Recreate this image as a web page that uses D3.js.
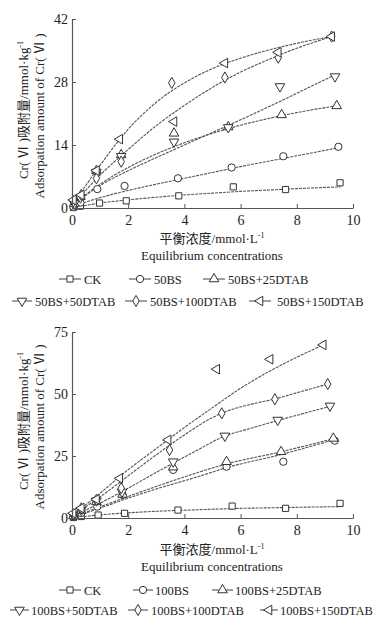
<!DOCTYPE html>
<html><head><meta charset="utf-8">
<script src="https://cdn.jsdelivr.net/npm/d3@7"></script>
<style>body{margin:0;background:#fff}svg{display:block}</style>
</head><body><svg id="c" width="388" height="623"></svg>
<script>
// ---------- data ----------
const xTicks = [0, 2, 4, 6, 8, 10];
const topYTicks = [0, 14, 28, 42];
const botYTicks = [0, 25, 50, 75];

const topNames = ["CK", "50BS", "50BS+25DTAB", "50BS+50DTAB", "50BS+100DTAB", "50BS+150DTAB"];
const botNames = ["CK", "100BS", "100BS+25DTAB", "100BS+50DTAB", "100BS+100DTAB", "100BS+150DTAB"];

// top panel measured points [x, y]
const topCK   = [[0.05,0.1],[0.3,0.4],[0.98,1.1],[1.93,1.6],[3.8,2.7],[5.74,4.7],[7.6,4.1],[9.54,5.6]];
const top50BS = [[0.05,0.3],[0.3,1.2],[0.9,4.2],[1.87,4.9],[3.77,6.6],[5.68,9.0],[7.52,11.5],[9.48,13.6]];
const top25   = [[0.08,1.0],[0.3,2.5],[0.87,8.3],[1.75,11.8],[3.63,16.6],[5.56,18.0],[7.46,20.7],[9.42,22.7]];
const top50   = [[0.08,1.0],[0.3,2.3],[0.87,8.0],[1.75,11.5],[3.63,14.7],[5.56,17.9],[7.4,27.0],[9.36,29.2]];
const top100  = [[0.05,1.5],[0.33,2.9],[0.87,6.6],[1.75,10.3],[3.55,27.8],[5.44,29.0],[7.34,33.4],[9.24,38.1]];
const top150  = [[0.05,1.8],[0.33,2.9],[0.87,8.3],[1.7,15.3],[3.63,19.2],[5.44,32.2],[7.34,34.6],[9.24,38.1]];

// top panel fitted curves [x, y]
const topCKFit   = [[0,0],[1,1.1],[2,1.8],[3,2.4],[4,2.9],[5,3.3],[6,3.7],[7,4.0],[8,4.3],[9.55,4.7]];
const top50BSFit = [[0,0.3],[1,2.3],[2,3.9],[3,5.3],[4,6.6],[5,7.9],[6,9.2],[7,10.4],[8,11.6],[9.48,13.4]];
const top25Fit   = [[0,0.5],[1,5.3],[2,9],[3,12],[4,14.5],[5,16.6],[6,18.4],[7,19.9],[8,21.2],[9.4,22.7]];
const top50Fit   = [[0,0.5],[1,5],[2,8.3],[3,11.2],[4,14],[5,16.8],[6,19.6],[7,22.5],[8,25.5],[9.36,29.6]];
const top100Fit  = [[0,0.5],[1,7.3],[2,13],[3,18.3],[4,22.8],[5,26.8],[6,30.2],[7,33],[8,35.5],[9.24,38.1]];
const top150Fit  = [[0,0.5],[1,9.5],[2,17.5],[3,23.5],[4,27.8],[5,31],[6,33.3],[7,35.1],[8,36.6],[9.24,38.1]];

// bottom panel measured points [x, y]
const botCK   = [[0.05,0.2],[0.33,0.6],[0.93,1.2],[1.87,1.9],[3.77,3.2],[5.7,4.8],[7.6,3.9],[9.54,5.9]];
const bot100BS= [[0.05,0.5],[0.33,2.0],[0.9,4.6],[1.8,9.3],[3.6,19.4],[5.5,20.7],[7.52,22.7],[9.35,31.2]];
const bot25   = [[0.05,0.8],[0.33,3.0],[0.87,6.5],[1.8,9.5],[3.6,20.5],[5.5,22.7],[7.44,26.7],[9.3,32.1]];
const bot50   = [[0.05,1.0],[0.33,3.2],[0.87,7.0],[1.78,10.5],[3.6,22.7],[5.44,33.1],[7.32,39.5],[9.18,45.2]];
const bot100  = [[0.05,1.5],[0.33,3.9],[0.87,7.3],[1.75,12.0],[3.47,27.4],[5.33,42.2],[7.22,47.9],[9.1,54.0]];
const bot150  = [[0.04,1.9],[0.33,4.0],[0.87,7.5],[1.7,16.0],[3.42,31.5],[5.15,60.0],[7.05,64.0],[8.94,69.8]];

// bottom panel fitted curves [x, y]
const botCKFit   = [[0,0],[0.93,1.2],[1.87,2.0],[3,2.7],[4.38,3.3],[5.7,3.8],[7.5,4.2],[9.54,4.6]];
const bot100BSFit= [[0,0.2],[1,4],[2,8],[3,11.7],[4.38,16.3],[5.5,20.3],[7.44,25.6],[9.3,31.5]];
const bot25Fit   = [[0,0.3],[1,4.5],[2,8.7],[3,12.7],[4.38,18],[5.5,21.8],[7.44,26.7],[9.3,32]];
const bot50Fit   = [[0,0.5],[1,6],[2,12],[2.78,17],[3.5,21.5],[4.4,27],[5.39,32.8],[6.4,36.3],[7.32,39.3],[9.18,45]];
const bot100Fit  = [[0,1],[1,8.5],[2,17],[3,25.5],[4,33.5],[5,40.5],[5.5,43],[6.5,46.2],[7.22,48],[8,50.5],[9.1,54]];
const bot150Fit  = [[0,1],[1,10],[2,19.5],[3,28],[4,36.5],[5,44.5],[6,52.3],[7,59],[8,64.8],[8.94,69.8]];

// ---------- drawing ----------
const svg = d3.select("#c");
const FONT = "'Liberation Serif','Times New Roman','Noto Sans CJK SC',serif";
const symbolDefs = [
  {type: d3.symbolSquare, rot: 0, size: 38},
  {type: d3.symbolCircle, rot: 0, size: 42},
  {type: d3.symbolTriangle, rot: 0, size: 40},
  {type: d3.symbolTriangle, rot: 180, size: 40},
  {type: d3.symbolDiamond, rot: 0, size: 36},
  {type: d3.symbolTriangle, rot: -90, size: 40}
];

function panel(cfg) {
  const x = d3.scaleLinear().domain([0, 10]).range([72, 353]);
  const y = d3.scaleLinear().domain([0, cfg.ymax]).range([cfg.y0, cfg.y1]);
  const g = svg.append("g");

  const line = d3.line().x(d => x(d[0])).y(d => y(d[1])).curve(d3.curveMonotoneX);
  cfg.fits.forEach(f => {
    g.append("path").attr("d", line(f)).attr("fill", "none")
      .attr("stroke", "#555").attr("stroke-width", 1.1).attr("stroke-dasharray", "3,1");
  });
  cfg.points.forEach((pts, i) => {
    const s = symbolDefs[i];
    g.selectAll(null).data(pts).enter().append("path")
      .attr("d", d3.symbol().type(s.type).size(s.size))
      .attr("transform", d => `translate(${x(d[0])},${y(d[1])}) rotate(${s.rot})`)
      .attr("fill", "#fff").attr("stroke", "#333").attr("stroke-width", 1);
  });

  const xa = g.append("g").attr("transform", `translate(0,${cfg.y0})`)
    .call(d3.axisBottom(x).tickValues(xTicks).tickSizeInner(-4).tickSizeOuter(0).tickPadding(7));
  const ya = g.append("g").attr("transform", "translate(72,0)")
    .call(d3.axisLeft(y).tickValues(cfg.yticks).tickSizeInner(-4).tickSizeOuter(0).tickPadding(4));
  [xa, ya].forEach(a => {
    a.select(".domain").attr("stroke", "#555").attr("stroke-width", 1.2);
    a.selectAll(".tick line").attr("stroke", "#555");
    a.selectAll("text").attr("font-family", FONT).attr("font-size", 14).attr("fill", "#222");
  });

  // y title
  const yt = g.append("text").attr("font-family", FONT).attr("font-size", 13).attr("fill", "#222")
    .attr("text-anchor", "middle").attr("transform", `translate(28,${cfg.ytc}) rotate(-90)`);
  yt.append("tspan").text("Cr( Ⅵ )吸附量/mmol·kg");
  yt.append("tspan").attr("font-size", 8).attr("dy", -5).text("-1");
  g.append("text").attr("font-family", FONT).attr("font-size", 13).attr("fill", "#222")
    .attr("text-anchor", "middle").attr("transform", `translate(44,${cfg.ytc + 6}) rotate(-90)`)
    .text("Adsorpation amount of Cr( Ⅵ )");

  // x title
  const xt = g.append("text").attr("font-family", FONT).attr("font-size", 13).attr("fill", "#222")
    .attr("text-anchor", "middle").attr("x", 212).attr("y", cfg.xt1);
  xt.append("tspan").text("平衡浓度/mmol·L");
  xt.append("tspan").attr("font-size", 8).attr("dy", -5).text("-1");
  g.append("text").attr("font-family", FONT).attr("font-size", 13).attr("fill", "#222")
    .attr("text-anchor", "middle").attr("x", 212).attr("y", cfg.xt2).text("Equilibrium concentrations");

  // legend
  cfg.names.forEach((n, i) => {
    const L = cfg.leg[i];
    const lg = g.append("g");
    lg.append("line").attr("x1", L[0]).attr("x2", L[1]).attr("y1", L[3]).attr("y2", L[3])
      .attr("stroke", "#555").attr("stroke-width", 1.1);
    const s = symbolDefs[i];
    lg.append("path").attr("d", d3.symbol().type(s.type).size(s.size))
      .attr("transform", `translate(${(L[0] + L[1]) / 2},${L[3]}) rotate(${s.rot})`)
      .attr("fill", "#fff").attr("stroke", "#333");
    lg.append("text").attr("x", L[2]).attr("y", L[3] + 4.5).attr("font-family", FONT)
      .attr("font-size", 12.5).attr("fill", "#222").text(n);
  });
}

panel({
  ymax: 42, y0: 208, y1: 19, yticks: topYTicks, ytc: 110, xt1: 243, xt2: 260,
  names: topNames,
  points: [topCK, top50BS, top25, top50, top100, top150],
  fits: [topCKFit, top50BSFit, top25Fit, top50Fit, top100Fit, top150Fit],
  leg: [[59, 81, 84, 279], [129, 151, 154, 279], [203, 225, 228, 279],
        [12, 32, 35, 301], [125, 147, 150, 301], [249, 271, 277, 301]]
});
panel({
  ymax: 75, y0: 518, y1: 332, yticks: botYTicks, ytc: 421, xt1: 554, xt2: 571,
  names: botNames,
  points: [botCK, bot100BS, bot25, bot50, bot100, bot150],
  fits: [botCKFit, bot100BSFit, bot25Fit, bot50Fit, bot100Fit, bot150Fit],
  leg: [[59, 81, 84, 590], [133, 153, 155, 590], [212, 233, 235, 590],
        [10, 29, 31, 610], [128, 148, 151, 610], [260, 278, 280, 610]]
});
</script></body></html>
